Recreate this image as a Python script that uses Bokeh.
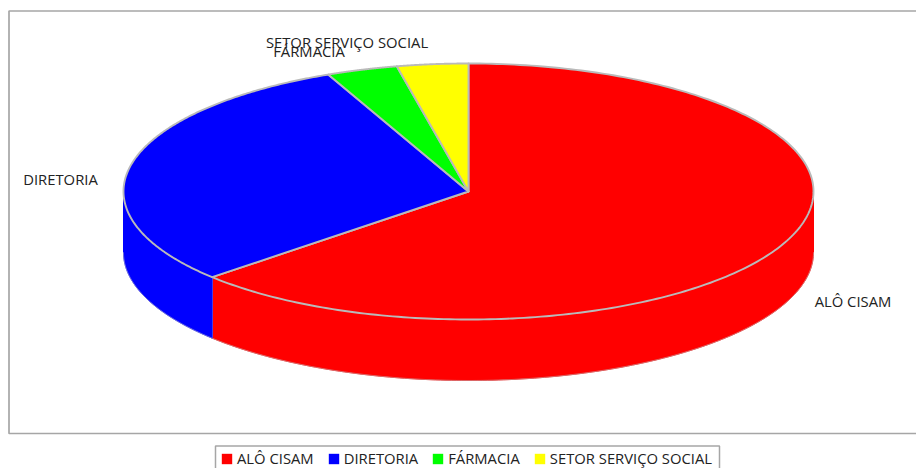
import numpy as np
from bokeh.plotting import figure
from bokeh.models import Range1d, Legend, LegendItem, Label
from bokeh.embed import file_html
from bokeh.resources import INLINE

categories = ["ALÔ CISAM", "DIRETORIA", "FÁRMACIA", "SETOR SERVIÇO SOCIAL"]
values = [19, 9, 1, 1]
colors = ["#ff0000", "#0000ff", "#00ff00", "#ffff00"]

W, H = 916, 468
CX, CY, RX, RY, DEPTH = 469, 192, 345, 128, 61
EDGE = "#bababa"
FONT = "Open Sans"
FS = "14.8px"

def sx(a):
    return CX + RX * np.sin(a)
def sy(a, drop=0):
    return CY - RY * np.cos(a) + drop

p = figure(width=W, height=H, output_backend="svg", toolbar_location=None,
           x_range=Range1d(1, W + 1), y_range=Range1d(H + 1, 1),
           min_border=0, min_border_left=0, min_border_right=0, min_border_top=0, min_border_bottom=0,
           x_axis_location=None, y_axis_location=None, outline_line_color=None,
           background_fill_color="white", border_fill_color="white")
p.grid.visible = False

# frame
p.line([930, 9.5, 9.5, 930], [11.5, 11.5, 434, 434], line_color="#a6a6a6", line_width=1.7)
# legend box
p.line([216, 216, 720, 720], [470, 446.5, 446.5, 470], line_color="#a6a6a6", line_width=1.5)

total = sum(values)
edges = np.concatenate([[0], np.cumsum(values)]) / total * 2 * np.pi

# extruded side, visible only on the front half of the ellipse
for v0, v1, col in zip(edges[:-1], edges[1:], colors):
    a0, a1 = max(v0, np.pi / 2), min(v1, 3 * np.pi / 2)
    if a1 <= a0:
        continue
    t = np.linspace(a0, a1, 160)
    xs = np.concatenate([sx(t), sx(t[::-1])])
    ys = np.concatenate([sy(t), sy(t[::-1], DEPTH)])
    p.patch(xs, ys, fill_color=col, line_color=col, line_width=1)
    p.line(sx(t), sy(t, DEPTH), line_color=EDGE, line_width=0.8, line_alpha=0.7)
    if v1 < 3 * np.pi / 2:
        p.line([sx(a1)] * 2, [sy(a1), sy(a1, DEPTH)], line_color="#c8c8c8", line_width=1.5)

# top slices
for v0, v1, col in zip(edges[:-1], edges[1:], colors):
    t = np.linspace(v0, v1, 240)
    xs = np.concatenate([[CX], sx(t)])
    ys = np.concatenate([[CY], sy(t)])
    p.patch(xs, ys, fill_color=col, line_color=EDGE, line_width=1.9, line_join="round")

# labels
for txt, x, y in [("SETOR SERVIÇO SOCIAL", 347.5, 42), ("FÁRMACIA", 309.5, 51), ("DIRETORIA", 61, 179), ("ALÔ CISAM", 853.5, 301)]:
    p.add_layout(Label(x=x, y=y, text=txt, text_font=FONT, text_font_size=FS, text_color="#222222",
                       text_align="center", text_baseline="middle"))

# zero-area shapes at the pie centre that only carry the legend swatches
swatches = [p.patch([CX] * 3, [CY] * 3, fill_color=c, line_color=None) for c in colors]
legend = Legend(items=[LegendItem(label=c, renderers=[r]) for c, r in zip(categories, swatches)],
                orientation="horizontal", location=(220, 0), label_text_font=FONT, label_text_font_size=FS,
                label_text_color="#222222", glyph_width=13, glyph_height=13, spacing=13, padding=0, margin=0,
                label_standoff=4, border_line_color=None, background_fill_alpha=0, label_height=14)
p.add_layout(legend, "center")

open("out.html", "w").write(file_html(p, INLINE))
